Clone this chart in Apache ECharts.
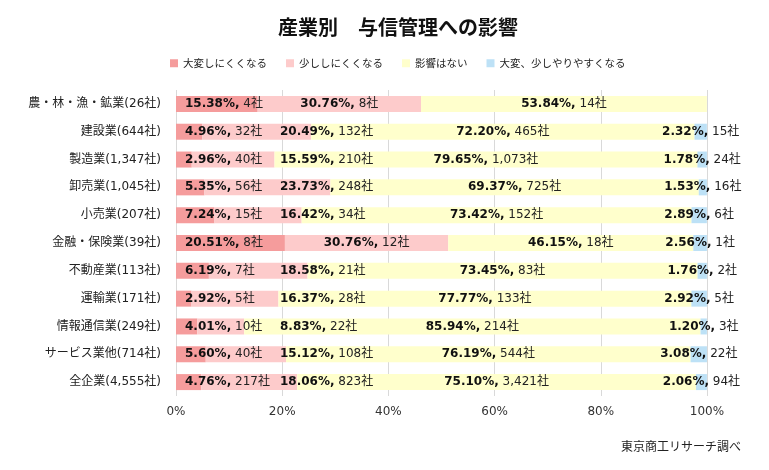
<!DOCTYPE html>
<html>
<head>
<meta charset="utf-8">
<script src="https://cdn.jsdelivr.net/npm/echarts@6.0.0/dist/echarts.min.js"></script>
<style>
html,body{margin:0;padding:0;background:#fff}
#main{width:769px;height:470px}
</style>
</head>
<body>
<div id="main"></div>
<script>
// 産業別 与信管理への影響 (%)
var categories = ['農・林・漁・鉱業(26社)', '建設業(644社)', '製造業(1,347社)', '卸売業(1,045社)', '小売業(207社)',
  '金融・保険業(39社)', '不動産業(113社)', '運輸業(171社)', '情報通信業(249社)', 'サービス業他(714社)', '全企業(4,555社)'];
var seriesNames = ['大変しにくくなる', '少ししにくくなる', '影響はない', '大変、少しやりやすくなる'];

var pct1 = [15.38, 4.96, 2.96, 5.35, 7.24, 20.51, 6.19, 2.92, 4.01, 5.60, 4.76];
var cnt1 = [4, 32, 40, 56, 15, 8, 7, 5, 10, 40, 217];
var pct2 = [30.76, 20.49, 15.59, 23.73, 16.42, 30.76, 18.58, 16.37, 8.83, 15.12, 18.06];
var cnt2 = [8, 132, 210, 248, 34, 12, 21, 28, 22, 108, 823];
var pct3 = [53.84, 72.20, 79.65, 69.37, 73.42, 46.15, 73.45, 77.77, 85.94, 76.19, 75.10];
var cnt3 = [14, 465, 1073, 725, 152, 18, 83, 133, 214, 544, 3421];
var pct4 = [null, 2.32, 1.78, 1.53, 2.89, 2.56, 1.76, 2.92, 1.20, 3.08, 2.06];
var cnt4 = [null, 15, 24, 16, 6, 1, 2, 5, 3, 22, 94];

var xTicks = [0, 20, 40, 60, 80, 100];

var FONT = '"DejaVu Sans", "Noto Sans CJK JP", sans-serif';
var colors = ['#f59c9c', '#fdcbcb', '#ffffcc', '#bde1f6'];
var gridLeft = 176, gridRight = 62;
var plotW = 769 - gridLeft - gridRight;

var ctx = document.createElement('canvas').getContext('2d');
function textW(s, bold){
  ctx.font = (bold ? 'bold ' : '') + '12px ' + FONT;
  return ctx.measureText(s).width;
}
function fmtCnt(n){ return String(n).replace(/\B(?=(\d{3})+(?!\d))/g, ','); }
function pctTxt(v){ return v.toFixed(2) + '%,'; }

// 2番目の系列のラベルは1番目と重ならないよう右へずらす
var s2data = pct2.map(function(v, i){
  var w = textW(pctTxt(v), true) + textW(' ' + fmtCnt(cnt2[i]) + '社', false);
  var center = (pct1[i] + v / 2) * plotW / 100;
  var left = Math.max(center - w / 2, 104);
  return {value: v, label: {offset: [left + w / 2 - center, 0]}};
});

function makeSeries(idx, data, counts, pos){
  return {
    name: seriesNames[idx],
    type: 'bar',
    stack: 'all',
    barWidth: 16,
    data: data,
    itemStyle: {color: colors[idx]},
    emphasis: {disabled: true},
    label: {
      show: true,
      position: pos,
      distance: 9,
      color: '#111',
      textBorderWidth: 0,
      textBorderColor: 'transparent',
      fontFamily: FONT,
      fontSize: 12,
      formatter: function(p){
        if (p.value == null) return '';
        return '{b|' + pctTxt(p.value) + '} {n|' + fmtCnt(counts[p.dataIndex]) + '社}';
      },
      rich: {
        b: {fontWeight: 'bold', fontFamily: FONT, fontSize: 12, color: '#111', textBorderWidth: 0, textBorderColor: 'transparent'},
        n: {fontFamily: FONT, fontSize: 12, color: '#222', textBorderWidth: 0, textBorderColor: 'transparent'}
      }
    }
  };
}

var myChart = echarts.init(document.getElementById('main'));
var option = {
  animation: false,
  backgroundColor: '#fff',
  title: {
    text: '産業別　与信管理への影響',
    left: 393,
    textAlign: 'center',
    top: 12,
    textStyle: {fontFamily: '"Noto Sans CJK JP"', fontSize: 20, fontWeight: 'bold', color: '#111'}
  },
  legend: {
    data: seriesNames,
    top: 53,
    left: 165,
    icon: 'rect',
    itemWidth: 8,
    itemHeight: 8,
    itemGap: 19,
    textStyle: {fontFamily: '"Noto Sans CJK JP"', fontSize: 10.5, color: '#222'}
  },
  grid: {left: gridLeft, right: gridRight, top: 90, bottom: 74},
  xAxis: {
    type: 'value',
    min: xTicks[0],
    max: xTicks[xTicks.length - 1],
    interval: 20,
    axisLine: {show: false},
    axisTick: {show: false},
    axisLabel: {formatter: '{value}%', fontFamily: FONT, fontSize: 12, color: '#333', margin: 10},
    splitLine: {lineStyle: {color: '#d9d9d9'}}
  },
  yAxis: {
    type: 'category',
    data: categories,
    inverse: true,
    axisLine: {show: false},
    axisTick: {show: false},
    axisLabel: {fontFamily: FONT, fontSize: 12, color: '#222', margin: 15}
  },
  series: [
    makeSeries(0, pct1, cnt1, 'insideLeft'),
    makeSeries(1, s2data, cnt2, 'inside'),
    makeSeries(2, pct3, cnt3, 'inside'),
    makeSeries(3, pct4, cnt4, 'inside')
  ],
  graphic: [{
    type: 'text',
    right: 28,
    top: 440,
    style: {text: '東京商工リサーチ調べ', font: '12px "Noto Sans CJK JP"', fill: '#222'}
  }]
};
myChart.setOption(option);
</script>
</body>
</html>
